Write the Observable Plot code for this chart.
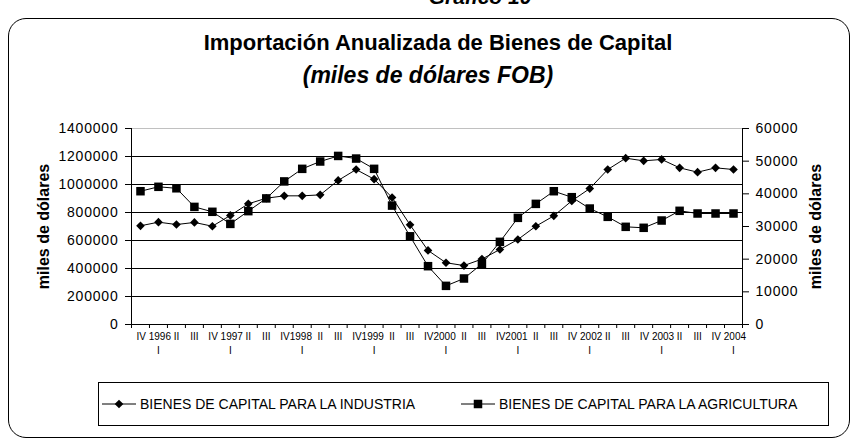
<!DOCTYPE html>
<html><head><meta charset="utf-8">
<script src="https://cdn.jsdelivr.net/npm/d3@7"></script>
<script src="https://cdn.jsdelivr.net/npm/@observablehq/plot@0.6"></script>
<style>
html,body{margin:0;padding:0;background:#fff;}
body{width:856px;height:440px;overflow:hidden;position:relative;font-family:"Liberation Sans",Arial,sans-serif;color:#000;}
#box{position:absolute;left:8px;top:18px;width:840px;height:418px;border:1px solid #000;border-radius:18px;}
#grafico{position:absolute;left:0;width:960px;top:-13px;text-align:center;font:bold italic 21px "Liberation Sans",Arial,sans-serif;line-height:20px;}
#title{position:absolute;left:10px;width:856px;top:31px;text-align:center;font:bold 22px "Liberation Sans",Arial,sans-serif;line-height:24px;}
#subtitle{position:absolute;left:0;width:856px;top:62px;text-align:center;font:bold italic 23px "Liberation Sans",Arial,sans-serif;line-height:26px;}
#chart{position:absolute;left:0;top:100px;}
#legend{position:absolute;left:98px;top:382px;width:729px;height:42px;border:1px solid #000;background:#fff;}
.item{position:absolute;top:0;height:42px;display:flex;align-items:center;font:14px "Liberation Sans",Arial,sans-serif;white-space:nowrap;}
.item svg{margin-right:4px;}
svg [aria-label="y-axis tick label"] text{letter-spacing:0.8px;}
</style>
</head><body>
<div id="box"></div>
<div id="grafico">Gráfico 10</div>
<div id="title">Importación Anualizada de Bienes de Capital</div>
<div id="subtitle">(miles de dólares FOB)</div>
<div id="chart"></div>
<div id="legend"></div>
<script>
const quarters = ["IV 1996","I","II","III","IV 1997","I","II","III","IV1998","I","II","III","IV1999","I","II","III","IV2000","I","II","III","IV2001","I","II","III","IV 2002","I","II","III","IV 2003","I","II","III","IV 2004","I"];
const industria = [705000,731000,714000,729000,702000,779000,862000,902000,919000,919000,926000,1029000,1107000,1038000,907000,712000,529000,441000,421000,467000,536000,607000,702000,776000,883000,971000,1107000,1188000,1169000,1179000,1119000,1088000,1119000,1107000];
const agricultura = [40800,42150,41700,36000,34500,30800,34700,38600,43800,47650,49900,51600,50800,47650,36400,27000,17850,11830,14080,18570,25300,32650,36930,40800,38970,35500,32960,29900,29600,31830,34800,33980,33980,33980];
const leftTicks = [0,200000,400000,600000,800000,1000000,1200000,1400000];
const rightTicks = [0,10000,20000,30000,40000,50000,60000];
const gridLines = [200000,400000,600000,800000,1000000,1200000];
const seriesNames = ["BIENES DE CAPITAL PARA LA INDUSTRIA","BIENES DE CAPITAL PARA LA AGRICULTURA"];
const axisTitle = "miles de dólares";

const leftMax = 1400000, rightMax = 60000;
const k = leftMax / rightMax;
const idx = (d, i) => i;
const boundaries = d3.range(quarters.length + 1).map(i => i - 0.5);

const plot = Plot.plot({
  width: 856,
  height: 270,
  marginTop: 28,
  marginBottom: 46,
  marginLeft: 131,
  marginRight: 114,
  style: {fontFamily: '"Liberation Sans", Arial, sans-serif', fontSize: "14px", color: "#000", background: "transparent"},
  x: {type: "linear", domain: [-0.5, quarters.length - 0.5]},
  y: {domain: [0, leftMax]},
  marks: [
    Plot.ruleY(gridLines, {stroke: "#000", strokeWidth: 1}),
    Plot.ruleY([leftMax], {stroke: "#c0c0c0", strokeWidth: 1}),
    Plot.ruleY([0], {stroke: "#000"}),
    Plot.ruleX([boundaries[0], boundaries[boundaries.length - 1]], {stroke: "#000"}),
    Plot.axisX(boundaries, {tickSize: 4, tickFormat: () => "", label: null}),
    Plot.axisY(leftTicks, {anchor: "left", tickSize: 6, tickPadding: 7, tickFormat: d => String(d), label: null}),
    Plot.axisY(rightTicks.map(v => v * k), {anchor: "right", tickSize: 6, tickPadding: 7, tickFormat: d => String(Math.round(d / k)), label: null}),
    Plot.text(quarters, {filter: d => d.startsWith("IV"), x: idx, frameAnchor: "bottom", dy: 15, dx: -4, textAnchor: "start", text: d => d, fontSize: 10, fill: "#000"}),
    Plot.text(quarters, {filter: d => d === "II" || d === "III", x: idx, frameAnchor: "bottom", dy: 15, text: d => d, fontSize: 10, fill: "#000"}),
    Plot.text(quarters, {filter: d => d === "I", x: idx, frameAnchor: "bottom", dy: 29, text: d => d, fontSize: 10, fill: "#000"}),
    Plot.text([axisTitle], {frameAnchor: "left", dx: -88, rotate: -90, textAnchor: "middle", fontWeight: "bold", fontSize: 16, fill: "#000"}),
    Plot.text([axisTitle], {frameAnchor: "right", dx: 73, rotate: -90, textAnchor: "middle", fontWeight: "bold", fontSize: 16, fill: "#000"}),
    Plot.line(industria, {x: idx, y: d => d, stroke: "#000", strokeWidth: 1}),
    Plot.line(agricultura, {x: idx, y: d => d * k, stroke: "#000", strokeWidth: 1}),
    Plot.dot(industria, {x: idx, y: d => d, symbol: "diamond2", r: 3.9, fill: "#000", stroke: "none"}),
    Plot.dot(agricultura, {x: idx, y: d => d * k, symbol: "square", r: 4.8, fill: "#000", stroke: "none"})
  ]
});
document.getElementById("chart").appendChild(plot);

// legend
const legend = document.getElementById("legend");
const symbols = [
  d3.symbol(d3.symbolDiamond2, 3.9 * 3.9 * Math.PI)(),
  d3.symbol(d3.symbolSquare, 4.8 * 4.8 * Math.PI)()
];
const lefts = [3, 362];
seriesNames.forEach((name, i) => {
  const item = document.createElement("div");
  item.className = "item";
  item.style.left = lefts[i] + "px";
  item.innerHTML = `<svg width="34" height="12" viewBox="-17 -6 34 12"><line x1="-17" x2="17" y1="0" y2="0" stroke="#000" stroke-width="1"/><path d="${symbols[i]}" fill="#000"/></svg><span>${name}</span>`;
  legend.appendChild(item);
});
</script>
</body></html>
